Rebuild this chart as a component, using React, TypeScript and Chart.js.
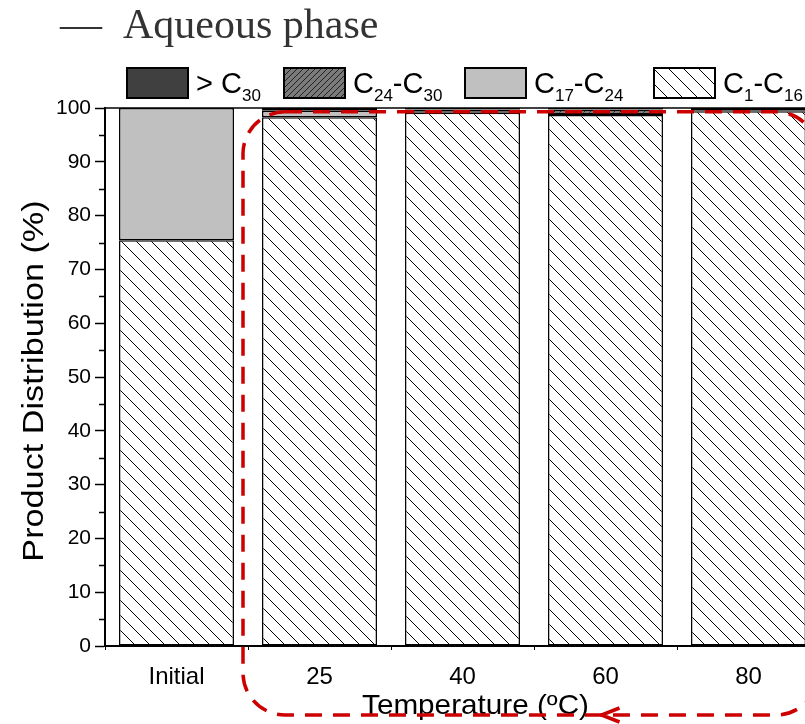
import React, { useEffect, useRef } from "react";
import { Chart, registerables } from "chart.js";

Chart.register(...registerables);

const categories = ["Initial", "25", "40", "60", "80"];
const seriesC1toC16 = [75.4, 98.3, 99.1, 98.7, 99.4];
const seriesC17toC24 = [24.6, 1.2, 0.3, 0.2, 0.2];
const seriesC24toC30 = [0, 0.3, 0.3, 0.8, 0.2];
const seriesOverC30 = [0, 0.2, 0.3, 0.3, 0.2];
const yMinorTicks = [5, 15, 25, 35, 45, 55, 65, 75, 85, 95];

const SANS = "'Liberation Sans', Arial, Helvetica, sans-serif";
const SERIF = "'Liberation Serif', 'Times New Roman', serif";

function makeHatch(size: number, bg: string, color: string, dir: string, lw: number) {
  const c = document.createElement("canvas");
  c.width = size;
  c.height = size;
  const g = c.getContext("2d")!;
  g.fillStyle = bg;
  g.fillRect(0, 0, size, size);
  g.strokeStyle = color;
  g.lineWidth = lw;
  g.beginPath();
  for (const o of [-size, 0, size]) {
    if (dir === "\\") {
      g.moveTo(o, 0);
      g.lineTo(o + size, size);
    } else {
      g.moveTo(o, size);
      g.lineTo(o + size, 0);
    }
  }
  g.stroke();
  return g.createPattern(c, "repeat")!;
}

function drawRich(ctx: CanvasRenderingContext2D, x: number, base: number, parts: [string, boolean][]) {
  for (const [t, sub] of parts) {
    ctx.font = sub ? `17px ${SANS}` : `29px ${SANS}`;
    ctx.fillText(t, x, base + (sub ? 8 : 0));
    x += ctx.measureText(t).width;
  }
}

function drawStretched(
  ctx: CanvasRenderingContext2D,
  text: string,
  cx: number,
  cy: number,
  font: string,
  stretch: number,
  rotate: number
) {
  ctx.save();
  ctx.translate(cx, cy);
  ctx.rotate(rotate);
  ctx.scale(stretch, 1);
  ctx.font = font;
  ctx.textAlign = "center";
  ctx.textBaseline = "middle";
  ctx.fillText(text, 0, 0);
  ctx.restore();
}

export default function App() {
  const ref = useRef<HTMLCanvasElement>(null);

  useEffect(() => {
    const canvas = ref.current!;
    const hatchLight = makeHatch(15, "#ffffff", "#000000", "\\", 1);
    const hatchDense = makeHatch(6, "#7a7a7a", "#222222", "/", 1);

    const legendItems: { fill: any; parts: [string, boolean][]; x: number }[] = [
      { fill: "#404040", parts: [["> C", false], ["30", true]], x: 127 },
      { fill: hatchDense, parts: [["C", false], ["24", true], ["-C", false], ["30", true]], x: 284 },
      { fill: "#c0c0c0", parts: [["C", false], ["17", true], ["-C", false], ["24", true]], x: 465 },
      { fill: hatchLight, parts: [["C", false], ["1", true], ["-C", false], ["16", true]], x: 654 },
    ];

    const overlay = {
      id: "overlay",
      afterDraw(chart: any) {
        const ctx = chart.ctx as CanvasRenderingContext2D;
        const { left, right, top, bottom } = chart.chartArea;
        const xs = chart.scales.x;
        const ys = chart.scales.y;
        ctx.save();
        // top frame line
        ctx.strokeStyle = "#000";
        ctx.lineWidth = 1.5;
        ctx.beginPath();
        ctx.moveTo(left, top);
        ctx.lineTo(right, top);
        ctx.stroke();
        // minor ticks
        ctx.beginPath();
        for (const v of yMinorTicks) {
          const py = Math.round(ys.getPixelForValue(v)) + 0.5;
          ctx.moveTo(left - 6, py);
          ctx.lineTo(left, py);
        }
        ctx.stroke();

        // axis titles
        ctx.fillStyle = "#000";
        drawStretched(ctx, "Product Distribution (%)", 35, (top + bottom) / 2 + 4, `29px ${SANS}`, 1.18, -Math.PI / 2);
        drawStretched(ctx, "Temperature (ºC)", (left + right) / 2 + 13, 706, `28px ${SANS}`, 1.06, 0);

        // title
        ctx.fillStyle = "#333";
        ctx.font = `42px ${SERIF}`;
        ctx.textBaseline = "alphabetic";
        ctx.textAlign = "left";
        ctx.fillText("\u2014  Aqueous phase", 60, 38);

        // legend
        for (const it of legendItems) {
          ctx.fillStyle = it.fill;
          ctx.fillRect(it.x, 68, 61, 30);
          ctx.strokeStyle = "#000";
          ctx.lineWidth = 2;
          ctx.strokeRect(it.x, 68, 61, 30);
          ctx.fillStyle = "#000";
          drawRich(ctx, it.x + 69, 93, it.parts);
        }

        // red dashed annotation
        const aL = xs.getPixelForValue(0.5) - 5;
        const aR = xs.getPixelForValue(4.5) - 2;
        const aT = ys.getPixelForValue(99.3);
        const aB = chart.height - 9;
        const r = 42;
        ctx.strokeStyle = "#cc0000";
        ctx.lineWidth = 3.5;
        ctx.setLineDash([17, 11]);
        ctx.beginPath();
        ctx.moveTo(aL + r, aT);
        ctx.lineTo(aR - r, aT);
        ctx.arcTo(aR, aT, aR, aT + r, r);
        ctx.lineTo(aR, aB - r);
        ctx.arcTo(aR, aB, aR - r, aB, r);
        ctx.lineTo(aL + r, aB);
        ctx.arcTo(aL, aB, aL, aB - r, r);
        ctx.lineTo(aL, aT + r);
        ctx.arcTo(aL, aT, aL + r, aT, r);
        ctx.stroke();
        ctx.setLineDash([]);
        const ax = xs.getPixelForValue(3) - 4;
        ctx.beginPath();
        ctx.moveTo(ax + 18, aB - 7);
        ctx.lineTo(ax, aB);
        ctx.lineTo(ax + 18, aB + 7);
        ctx.stroke();
        ctx.restore();
      },
    };

    const common = {
      borderColor: "#000",
      borderWidth: 1.5,
      borderSkipped: false as const,
      barPercentage: 0.804,
      categoryPercentage: 1,
    };

    const chart = new Chart(canvas, {
      type: "bar",
      data: {
        labels: categories,
        datasets: [
          { label: "C1-C16", data: seriesC1toC16, backgroundColor: hatchLight, ...common },
          { label: "C17-C24", data: seriesC17toC24, backgroundColor: "#c0c0c0", ...common },
          { label: "C24-C30", data: seriesC24toC30, backgroundColor: hatchDense, ...common },
          { label: ">C30", data: seriesOverC30, backgroundColor: "#404040", ...common },
        ],
      },
      options: {
        responsive: false,
        animation: false,
        layout: { padding: { top: 108, right: 10, left: 0, bottom: 0 } },
        plugins: {
          legend: { display: false },
          tooltip: { enabled: false },
          title: { display: false },
        },
        scales: {
          x: {
            stacked: true,
            offset: true,
            grid: {
              display: true,
              drawOnChartArea: false,
              offset: true,
              tickLength: 4,
              tickColor: "#000",
              tickWidth: 1,
            },
            border: { display: true, color: "#000", width: 2 },
            ticks: { font: { size: 24, family: SANS }, color: "#000", padding: 13 },
            title: { display: false },
            afterFit: (s: any) => {
              s.height = 78;
            },
          },
          y: {
            stacked: true,
            min: 0,
            max: 100,
            ticks: { stepSize: 10, font: { size: 21, family: SANS }, color: "#000", padding: 4 },
            grid: {
              display: true,
              drawOnChartArea: false,
              tickLength: 10,
              tickColor: "#000",
              tickWidth: 1.5,
            },
            border: { display: true, color: "#000", width: 2 },
            title: { display: false },
            afterFit: (s: any) => {
              s.width = 105;
            },
          },
        },
      },
      plugins: [overlay],
    });
    return () => chart.destroy();
  }, []);

  return (
    <div style={{ position: "absolute", left: 0, top: 0, width: 805, height: 724, overflow: "hidden", background: "#fff" }}>
      <canvas ref={ref} width={830} height={724} style={{ display: "block" }} />
    </div>
  );
}
